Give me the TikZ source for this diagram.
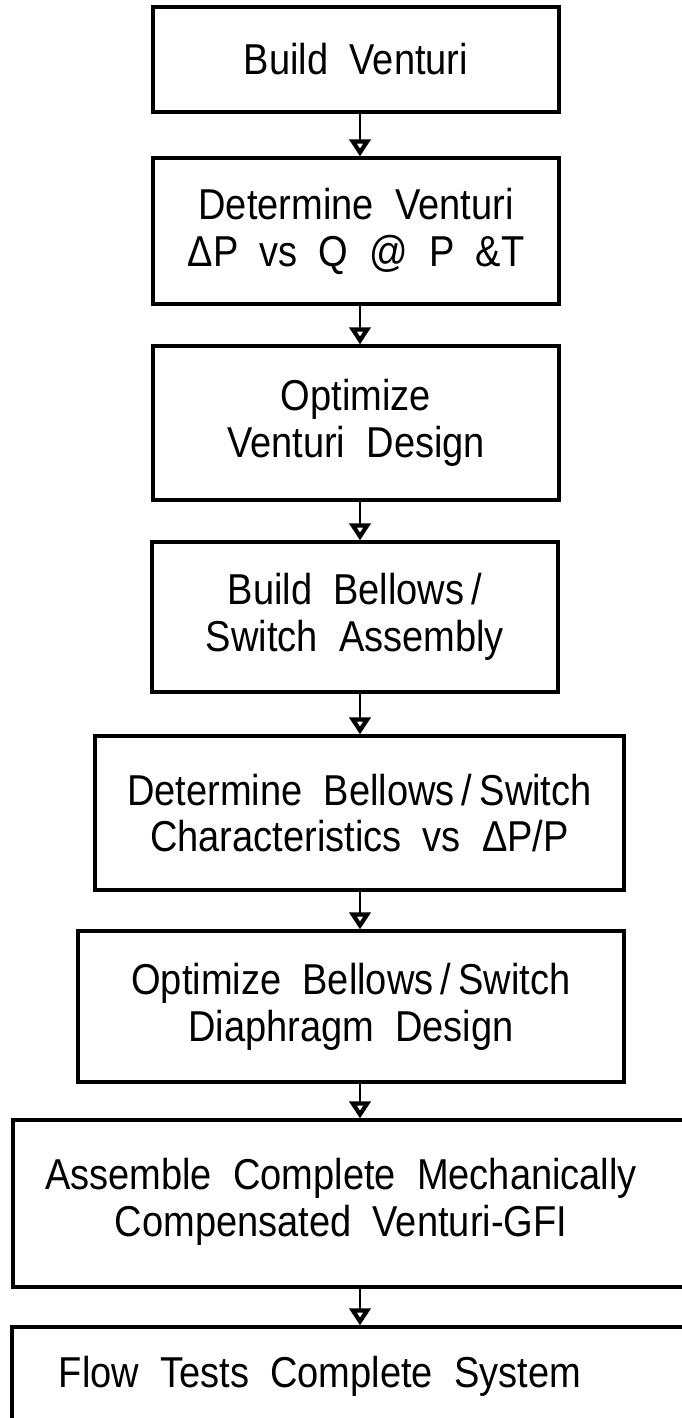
\documentclass[tikz,border=0pt]{standalone}
\usepackage{fontspec}
\newfontfamily\stagefont[FakeStretch=0.88,WordSpace=2]{Liberation Sans}
\usepackage{tikz}
\usetikzlibrary{arrows.meta}
\tikzset{stage/.style={draw, line width=1.9pt, inner sep=0pt, align=center,
  font=\stagefont\fontsize{24.6}{26.7}\selectfont}}
\tikzset{flow/.style={line width=1.2pt, -{Triangle[open,width=.42cm,length=.34cm,line width=2.4pt]}}}

\begin{document}
\begin{tikzpicture}[x=.02cm, y=-.02cm]
\useasboundingbox (0,0) rectangle (682,1418);
\clip (0,0) rectangle (682,1418);
\coordinate (spine) at (360,0);
\node[stage, minimum width=8.12cm, minimum height=2.1cm] (bv) at (356,59.5) {Build Venturi};
\node[stage, minimum width=8.12cm, minimum height=2.92cm] (dv) at (356,231) {Determine Venturi\\ΔP vs Q @ P \&T};
\node[stage, minimum width=8.12cm, minimum height=3.08cm] (ov) at (356,423) {Optimize\\Venturi Design};
\node[stage, minimum width=8.12cm, minimum height=3cm] (bb) at (355,617) {Build Bellows\,/\\Switch Assembly};
\node[stage, minimum width=10.58cm, minimum height=3.08cm] (dc) at (359.5,813) {Determine Bellows\,/\,Switch\\Characteristics vs ΔP/P};
\node[stage, minimum width=10.92cm, minimum height=3.02cm] (od) at (351,1006.5) {Optimize Bellows\,/\,Switch\\Diaphragm Design};
% last two frames run off the right edge
\node[stage, minimum width=14.14cm, minimum height=3.34cm] (asm) at (366.5,1203.5) {};
\node[stage, draw=none] (asmtxt) at (341,1202) {Assemble Complete Mechanically\\Compensated Venturi-GFI};
\node[stage, minimum width=14.16cm, minimum height=2.26cm] (ft) at (366,1383.5) {};
\node[stage, draw=none] (fttxt) at (320,1376) {Flow Tests Complete System};
\draw[flow] (bv.south -| spine) -- (dv.north -| spine);
\draw[flow] (dv.south -| spine) -- (ov.north -| spine);
\draw[flow] (ov.south -| spine) -- (bb.north -| spine);
\draw[flow] (bb.south -| spine) -- (dc.north -| spine);
\draw[flow] (dc.south -| spine) -- (od.north -| spine);
\draw[flow] (od.south -| spine) -- (asm.north -| spine);
\draw[flow] (asm.south -| spine) -- (ft.north -| spine);
\end{tikzpicture}
\end{document}
